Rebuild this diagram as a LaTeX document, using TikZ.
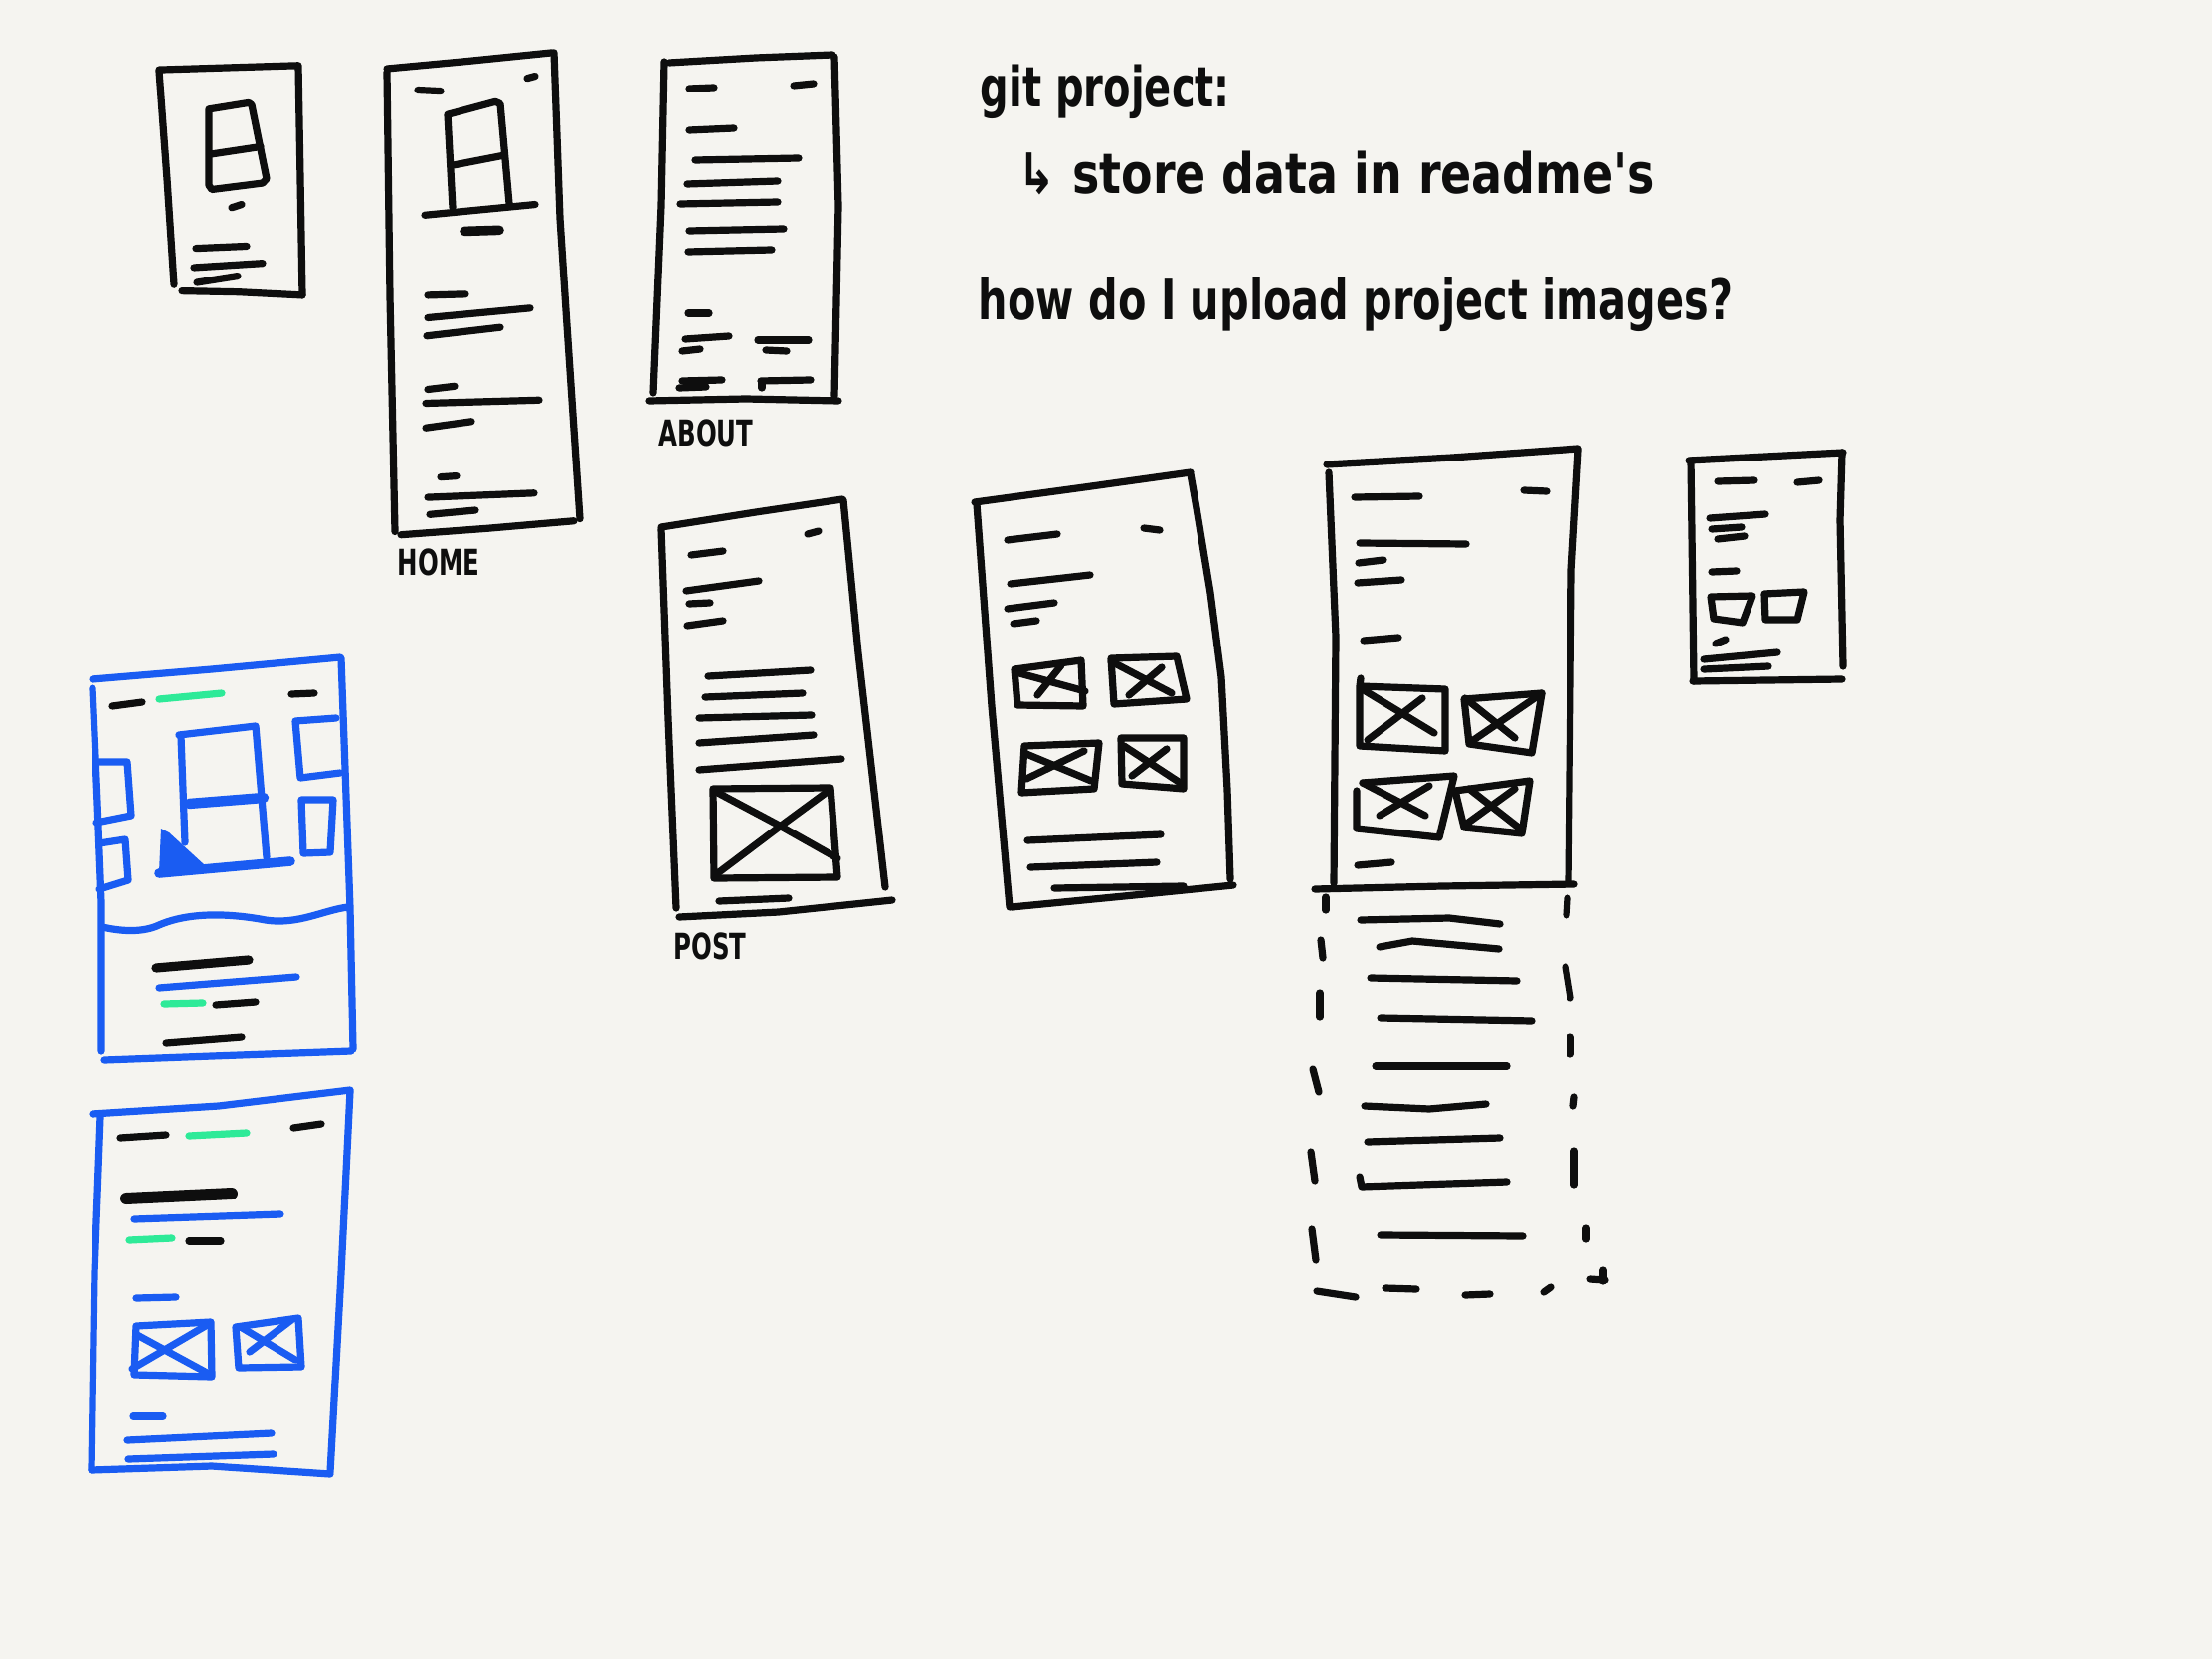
\documentclass[tikz,border=0pt]{standalone}
\usepackage{fontspec}
\newfontfamily\handfont{DejaVu Sans}
\definecolor{paper}{HTML}{F5F4F0}
\definecolor{pen}{HTML}{0E0E0E}
\definecolor{bpen}{HTML}{1A5CF2}
\definecolor{gpen}{HTML}{2EEA98}
\begin{document}
\begin{tikzpicture}[x=0.25pt,y=-0.25pt,
 ink/.style={draw=pen,line width=1.8pt,line cap=round,line join=round},
 thick ink/.style={draw=pen,line width=2.4pt,line cap=round,line join=round},
 bink/.style={draw=bpen,line width=1.8pt,line cap=round,line join=round},
 gink/.style={draw=gpen,line width=1.8pt,line cap=round},
 hand/.style={font=\handfont\bfseries\fontsize{14}{16}\selectfont, anchor=base west, inner sep=0pt, text=pen},
 lbl/.style={font=\handfont\bfseries\fontsize{9}{10}\selectfont, inner sep=0pt, text=pen}]
\fill[paper] (0,0) rectangle (2224,1668);
\useasboundingbox (0,0) rectangle (2224,1668);

% ---------- notes ----------
\node[hand] (n1) at (985,108) {\scalebox{0.715}[1]{git project:}};
\node[hand] (n2) at (1023,195) {\scalebox{0.82}[1]{↳ store data in readme's}};
\node[hand] (n3) at (983,322) {\scalebox{0.74}[1]{how do I upload project images?}};

\begin{scope}[shift={(0,-3)},yscale=1.075]
% ---------- wireframe 1 (small) ----------
\draw[ink] (160,68) -- (230,66) -- (300,64) -- (302,170) -- (304,279);
\draw[ink] (160,69) -- (168,170) -- (175,269);
\draw[ink] (183,275) -- (240,276) -- (304,279);
\draw[ink] (210,105) -- (250,99) -- (253,101) -- (268,170) -- (264,174) -- (213,180) -- (210,176) -- cycle;
\draw[ink] (212,147) -- (262,140);
\draw[ink] (233,197) -- (243,194);
\draw[ink] (197,235) -- (248,233);
\draw[ink] (195,253) -- (264,249);
\draw[ink] (198,267) -- (239,261);

% ---------- wireframe 2 (HOME) ----------
\draw[ink] (389,67) -- (470,60) -- (555,52);
\draw[ink] (557,52) -- (563,207) -- (570,307) -- (583,488);
\draw[ink] (389,70) -- (392,280) -- (397,500);
\draw[ink] (403,503) -- (490,497) -- (577,490);
\draw[ink] (420,87) -- (443,88);
\draw[ink] (530,76) -- (538,74);
\draw[ink] (455,197) -- (450,110) -- (498,98) -- (503,100) -- (512,193);
\draw[ink] (457,157) -- (507,148);
\draw[ink] (427,204) -- (538,194);
\draw[thick ink] (467,219) -- (502,218);
\draw[ink] (430,279) -- (468,278);
\draw[ink] (430,300) -- (533,291);
\draw[ink] (429,317) -- (503,309);
\draw[ink] (430,367) -- (457,364);
\draw[ink] (428,380) -- (542,377);
\draw[ink] (428,403) -- (474,397);
\draw[ink] (443,449) -- (459,448);
\draw[ink] (430,468) -- (537,464);
\draw[ink] (432,484) -- (478,480);
\node[lbl] (home) at (441,529) {\scalebox{0.68}[1]{HOME}};
\end{scope}

% ---------- wireframe 3 (ABOUT) ----------
\draw[ink] (673,63) -- (760,58) -- (837,55);
\draw[ink] (839,57) -- (843,207) -- (839,398);
\draw[ink] (668,62) -- (665,207) -- (657,395);
\draw[ink] (653,403) -- (750,401) -- (843,403);
\draw[ink] (693,89) -- (718,88);
\draw[ink] (798,86) -- (818,84);
\draw[ink] (693,131) -- (738,129);
\draw[ink] (699,161) -- (803,159);
\draw[ink] (691,185) -- (782,182);
\draw[ink] (684,205) -- (782,203);
\draw[ink] (693,232) -- (788,230);
\draw[ink] (692,253) -- (776,251);
\draw[ink] (692,315) -- (713,315);
\draw[ink] (689,341) -- (733,338);
\draw[ink] (762,342) -- (813,342);
\draw[ink] (686,353) -- (704,351);
\draw[ink] (770,352) -- (791,353);
\draw[ink] (686,383) -- (726,382);
\draw[ink] (683,390) -- (710,389);
\draw[ink] (765,383) -- (815,382);
\draw[ink] (766,384) -- (766,390);
\node[lbl] (about) at (710,435) {\scalebox{0.68}[1]{ABOUT}};

% ---------- wireframe 4 (POST) ----------
\draw[ink] (665,530) -- (760,515) -- (847,502);
\draw[ink] (848,503) -- (863,657) -- (890,892);
\draw[ink] (665,532) -- (672,723) -- (680,913);
\draw[ink] (683,922) -- (783,917) -- (897,905);
\draw[ink] (695,558) -- (727,554);
\draw[ink] (812,537) -- (823,534);
\draw[ink] (690,594) -- (763,584);
\draw[ink] (693,607) -- (714,606);
\draw[ink] (691,629) -- (727,624);
\draw[ink] (712,680) -- (815,674);
\draw[ink] (709,701) -- (807,697);
\draw[ink] (703,722) -- (816,719);
\draw[ink] (703,747) -- (818,739);
\draw[ink] (703,774) -- (846,763);
\draw[ink] (717,793) -- (835,792) -- (842,882) -- (718,883) -- cycle;
\draw[ink] (718,795) -- (780,828) -- (842,863);
\draw[ink] (723,877) -- (780,834) -- (833,795);
\draw[ink] (723,906) -- (793,903);
\node[lbl] (post) at (714,951) {\scalebox{0.68}[1]{POST}};

% ---------- wireframe 5 (project grid) ----------
\draw[ink] (980,505) -- (1090,490) -- (1197,475);
\draw[ink] (1197,477) -- (1203,511) -- (1217,596) -- (1228,681) -- (1234,794) -- (1237,884);
\draw[ink] (982,507) -- (997,710) -- (1015,912);
\draw[ink] (1017,912) -- (1130,901) -- (1240,890);
\draw[ink] (1013,543) -- (1063,537);
\draw[ink] (1150,531) -- (1166,533);
\draw[ink] (1016,587) -- (1096,578);
\draw[ink] (1013,612) -- (1060,606);
\draw[ink] (1019,627) -- (1042,624);
\draw[ink] (1020,673) -- (1087,664) -- (1089,710) -- (1023,709) -- cycle;
\draw[ink] (1025,677) -- (1091,695);
\draw[ink] (1043,699) -- (1067,669);
\draw[ink] (1117,662) -- (1183,660) -- (1193,703) -- (1120,708) -- cycle;
\draw[ink] (1117,665) -- (1178,697);
\draw[ink] (1135,699) -- (1168,671);
\draw[ink] (1030,750) -- (1105,747) -- (1100,793) -- (1027,797) -- cycle;
\draw[ink] (1032,758) -- (1097,785);
\draw[ink] (1032,783) -- (1090,755);
\draw[ink] (1127,742) -- (1190,742) -- (1190,793) -- (1128,788) -- cycle;
\draw[ink] (1130,750) -- (1188,788);
\draw[ink] (1138,780) -- (1173,753);
\draw[ink] (1033,845) -- (1167,839);
\draw[ink] (1036,872) -- (1163,867);
\draw[ink] (1060,893) -- (1190,891);

% ---------- wireframe 6 (project page + dashed overflow) ----------
\draw[ink] (1334,467) -- (1460,460) -- (1587,451);
\draw[ink] (1587,452) -- (1580,573) -- (1577,888);
\draw[ink] (1336,475) -- (1343,640) -- (1341,888);
\draw[ink] (1322,894) -- (1450,891) -- (1583,889);
\draw[ink] (1362,500) -- (1427,499);
\draw[ink] (1532,493) -- (1555,494);
\draw[ink] (1367,546) -- (1474,547);
\draw[ink] (1366,566) -- (1391,563);
\draw[ink] (1365,586) -- (1409,583);
\draw[ink] (1371,644) -- (1406,641);
\draw[ink] (1368,682) -- (1367,690) -- (1453,693) -- (1453,755) -- (1367,750) -- (1367,690);
\draw[ink] (1368,692) -- (1442,737);
\draw[ink] (1375,744) -- (1430,702);
\draw[ink] (1472,703) -- (1550,697) -- (1540,757) -- (1477,748) -- cycle;
\draw[ink] (1473,702) -- (1523,742);
\draw[ink] (1480,745) -- (1550,697);
\draw[ink] (1370,787) -- (1462,780) -- (1447,842) -- (1364,833) -- (1364,795);
\draw[ink] (1370,787) -- (1433,820);
\draw[ink] (1387,820) -- (1437,790);
\draw[ink] (1463,795) -- (1538,785) -- (1530,838) -- (1472,832) -- cycle;
\draw[ink] (1477,793) -- (1528,833);
\draw[ink] (1472,830) -- (1523,793);
\draw[ink] (1365,870) -- (1399,867);
% dashed overflow
\draw[ink] (1333,902) -- (1333,915);
\draw[ink] (1328,945) -- (1330,963);
\draw[ink] (1327,998) -- (1327,1023);
\draw[ink] (1320,1075) -- (1326,1098);
\draw[ink] (1318,1158) -- (1322,1187);
\draw[ink] (1319,1236) -- (1323,1267);
\draw[ink] (1324,1298) -- (1363,1304);
\draw[ink] (1393,1295) -- (1424,1296);
\draw[ink] (1473,1302) -- (1498,1301);
\draw[ink] (1552,1299) -- (1559,1294);
\draw[ink] (1599,1286) -- (1614,1287);
\draw[ink] (1612,1277) -- (1612,1288);
\draw[ink] (1576,903) -- (1575,920);
\draw[ink] (1574,972) -- (1579,1003);
\draw[ink] (1579,1043) -- (1579,1060);
\draw[ink] (1583,1103) -- (1582,1112);
\draw[ink] (1583,1157) -- (1583,1191);
\draw[ink] (1595,1235) -- (1595,1246);
\draw[ink] (1368,925) -- (1457,923) -- (1508,929);
\draw[ink] (1387,952) -- (1420,946) -- (1507,954);
\draw[ink] (1378,983) -- (1525,986);
\draw[ink] (1388,1024) -- (1540,1027);
\draw[ink] (1383,1072) -- (1515,1072);
\draw[ink] (1372,1112) -- (1437,1115) -- (1494,1110);
\draw[ink] (1375,1148) -- (1508,1144);
\draw[ink] (1367,1183) -- (1369,1193) -- (1515,1188);
\draw[ink] (1388,1242) -- (1531,1243);

% ---------- wireframe 7 (small right) ----------
\draw[ink] (1698,463) -- (1775,459) -- (1853,455);
\draw[ink] (1700,463) -- (1703,685);
\draw[ink] (1852,455) -- (1850,523) -- (1853,670);
\draw[ink] (1702,685) -- (1852,683);
\draw[ink] (1727,484) -- (1764,483);
\draw[ink] (1807,485) -- (1829,483);
\draw[ink] (1719,521) -- (1775,517);
\draw[ink] (1721,532) -- (1751,530);
\draw[ink] (1727,542) -- (1754,539);
\draw[ink] (1721,575) -- (1746,574);
\draw[ink] (1720,600) -- (1762,599) -- (1752,626) -- (1723,622) -- cycle;
\draw[ink] (1774,597) -- (1814,595) -- (1807,623) -- (1775,623) -- cycle;
\draw[ink] (1725,647) -- (1735,643);
\draw[ink] (1713,663) -- (1787,656);
\draw[ink] (1713,673) -- (1778,670);

% ---------- blue wireframe 1 ----------
\draw[bink] (93,683) -- (213,673) -- (342,661);
\draw[bink] (343,662) -- (347,773) -- (352,913) -- (355,1055);
\draw[bink] (93,692) -- (98,807) -- (102,907) -- (102,1057);
\draw[bink] (105,1066) -- (213,1062) -- (353,1057);
\draw[ink] (113,710) -- (143,706);
\draw[gink] (160,703) -- (223,697);
\draw[ink] (293,698) -- (316,697);
\draw[bink] (186,847) -- (182,740) -- (180,739) -- (257,730) -- (268,862);
\draw[bink,line width=2.6pt] (190,808) -- (265,802);
\draw[bink,line width=2.4pt] (160,878) -- (292,866);
\fill[bpen] (162,833) -- (170,837) -- (206,870) -- (160,877) -- cycle;
\draw[bink] (98,766) -- (128,766) -- (132,820) -- (97,827);
\draw[bink] (100,848) -- (126,844) -- (129,885) -- (100,894);
\draw[bink] (338,722) -- (297,725) -- (302,782) -- (342,777);
\draw[bink] (303,804) -- (335,804) -- (332,857) -- (305,858) -- cycle;
\draw[bink] (103,932) .. controls (125,937) and (145,937) .. (160,930)
  .. controls (190,917) and (230,918) .. (267,925)
  .. controls (300,930) and (325,915) .. (350,912);
\draw[ink,line width=2.3pt] (157,973) -- (250,965);
\draw[bink] (160,993) -- (298,982);
\draw[gink] (165,1009) -- (204,1008);
\draw[ink] (217,1010) -- (257,1007);
\draw[ink] (167,1049) -- (243,1043);

% ---------- blue wireframe 2 ----------
\draw[bink] (93,1120) -- (220,1112) -- (352,1096);
\draw[bink] (352,1097) -- (343,1280) -- (332,1480);
\draw[bink] (101,1123) -- (95,1280) -- (92,1478);
\draw[bink] (92,1478) -- (213,1474) -- (332,1482);
\draw[ink] (121,1144) -- (167,1141);
\draw[gink] (190,1142) -- (248,1139);
\draw[ink] (295,1134) -- (323,1130);
\draw[ink,line width=3pt] (127,1205) -- (233,1200);
\draw[bink] (135,1226) -- (282,1221);
\draw[gink] (130,1247) -- (173,1245);
\draw[ink] (190,1248) -- (222,1248);
\draw[bink] (137,1305) -- (177,1304);
\draw[bink] (137,1333) -- (212,1329) -- (213,1384) -- (135,1382) -- cycle;
\draw[bink] (138,1342) -- (208,1380);
\draw[bink] (133,1376) -- (210,1331);
\draw[bink] (237,1334) -- (300,1325) -- (303,1374) -- (240,1375) -- cycle;
\draw[bink] (242,1334) -- (297,1367);
\draw[bink] (251,1359) -- (293,1327);
\draw[bink] (134,1424) -- (164,1424);
\draw[bink] (128,1448) -- (273,1441);
\draw[bink] (129,1467) -- (275,1462);
\end{tikzpicture}
\end{document}
